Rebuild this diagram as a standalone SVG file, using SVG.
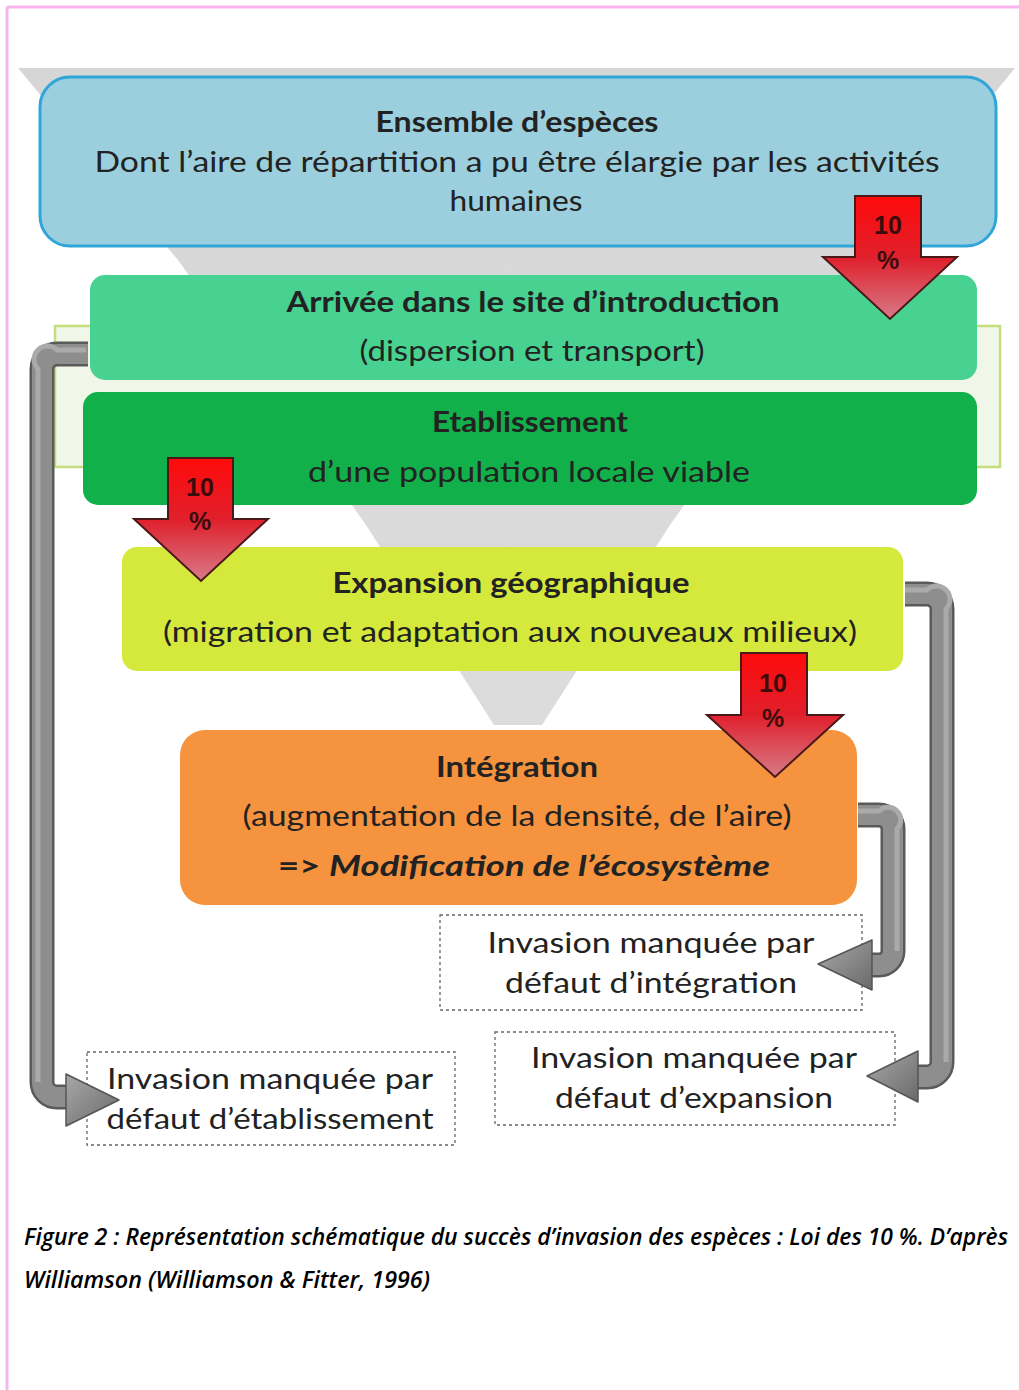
<svg xmlns="http://www.w3.org/2000/svg" width="1019" height="1390" viewBox="0 0 1019 1390">
<defs>
<linearGradient id="redg" x1="0" y1="0" x2="0" y2="1">
<stop offset="0" stop-color="#ff0a0a"/>
<stop offset="0.5" stop-color="#e0202c"/>
<stop offset="1" stop-color="#d87a88"/>
</linearGradient>
<linearGradient id="grayh" x1="0" y1="0" x2="1" y2="1">
<stop offset="0" stop-color="#a8a8a8"/>
<stop offset="1" stop-color="#6a6a6a"/>
</linearGradient>
<linearGradient id="funnel" x1="0" y1="0" x2="0" y2="1">
<stop offset="0" stop-color="#d6d6d6"/>
<stop offset="1" stop-color="#dcdcdc"/>
</linearGradient>
</defs>
<style>
.t{font-family:Lato,"Open Sans","DejaVu Sans",sans-serif;font-size:28px;fill:#222;text-anchor:middle}
.b{font-weight:bold}
.pct{font-family:"Liberation Sans",Arial,sans-serif;font-size:25px;font-weight:bold;fill:#3a0c0c;text-anchor:middle}
.cap{font-family:"Open Sans","Liberation Sans",sans-serif;font-size:23px;font-style:italic;font-weight:600;fill:#000}
.dash{fill:#fff;stroke:#666;stroke-width:1.3;stroke-dasharray:3,3}
.pipeo{fill:none;stroke:#5a5a5a;stroke-width:25;stroke-linejoin:round}
.pipei{fill:none;stroke:#8e8e8e;stroke-width:20}
.pipeh{fill:none;stroke:#aaaaaa;stroke-width:5}
.head{fill:url(#grayh);stroke:#555;stroke-width:1.5;stroke-linejoin:round}
.red{fill:url(#redg);stroke:#4a1818;stroke-width:2;stroke-linejoin:miter}
</style>
<rect width="1019" height="1390" fill="#fff"/>
<!-- pink frame -->
<line x1="7" y1="7" x2="1019" y2="7" stroke="#f8b4ec" stroke-width="3"/>
<line x1="7" y1="7" x2="7" y2="1390" stroke="#f8b4ec" stroke-width="3"/>
<!-- funnel -->
<polygon points="18,68 1015,68 858,260 670,525 542,725 494,725 366,525 178,260" fill="url(#funnel)"/>
<!-- light green bracket -->
<rect x="55" y="326" width="945" height="141" fill="#f1f7e8" stroke="#c6dd7e" stroke-width="2.5"/>
<g id="node-ensemble">
<rect x="40" y="77" width="956" height="169" rx="30" fill="#9ccfdd" stroke="#30a6d8" stroke-width="3"/>
<text class="t b" x="517" y="132" textLength="283" lengthAdjust="spacingAndGlyphs">Ensemble d’espèces</text>
<text class="t" x="517" y="172" textLength="845" lengthAdjust="spacingAndGlyphs">Dont l’aire de répartition a pu être  élargie par les activités</text>
<text class="t" x="516" y="211" textLength="133" lengthAdjust="spacingAndGlyphs">humaines</text>
</g>
<g id="node-arrivee">
<rect x="90" y="275" width="887" height="105" rx="15" fill="#47d291"/>
<text class="t b" x="533" y="312" textLength="493" lengthAdjust="spacingAndGlyphs">Arrivée dans le site d’introduction</text>
<text class="t" x="532" y="361" textLength="345" lengthAdjust="spacingAndGlyphs">(dispersion et transport)</text>
</g>
<g id="node-etablissement">
<rect x="83" y="392" width="894" height="113" rx="15" fill="#12b04b"/>
<text class="t b" x="530" y="432" textLength="196" lengthAdjust="spacingAndGlyphs">Etablissement</text>
<text class="t" x="529" y="482" textLength="442" lengthAdjust="spacingAndGlyphs">d’une population locale viable</text>
</g>
<g id="node-expansion">
<rect x="122" y="547" width="781" height="124" rx="15" fill="#d5e83c"/>
<text class="t b" x="511" y="593" textLength="357" lengthAdjust="spacingAndGlyphs">Expansion géographique</text>
<text class="t" x="510" y="642" textLength="694" lengthAdjust="spacingAndGlyphs">(migration et adaptation aux nouveaux milieux)</text>
</g>
<g id="node-integration">
<rect x="180" y="730" width="677" height="175" rx="25" fill="#f5933e"/>
<text class="t b" x="517" y="777" textLength="162" lengthAdjust="spacingAndGlyphs">Intégration</text>
<text class="t" x="517" y="826" textLength="549" lengthAdjust="spacingAndGlyphs">(augmentation de la densité, de l’aire)</text>
<text class="t b" x="524" y="876" textLength="492" lengthAdjust="spacingAndGlyphs">=&gt; <tspan font-style="italic">Modification de l’écosystème</tspan></text>
</g>
<g id="node-echec-integration">
<rect class="dash" x="440" y="915" width="422" height="95"/>
<text class="t" x="651" y="953" textLength="327" lengthAdjust="spacingAndGlyphs">Invasion manquée par</text>
<text class="t" x="651" y="993" textLength="292" lengthAdjust="spacingAndGlyphs">défaut d’intégration</text>
</g>
<g id="node-echec-expansion">
<rect class="dash" x="495" y="1032" width="400" height="93"/>
<text class="t" x="694" y="1068" textLength="326" lengthAdjust="spacingAndGlyphs">Invasion manquée par</text>
<text class="t" x="694" y="1108" textLength="278" lengthAdjust="spacingAndGlyphs">défaut d’expansion</text>
</g>
<g id="node-echec-etablissement">
<rect class="dash" x="87" y="1052" width="368" height="93"/>
<text class="t" x="270" y="1089" textLength="326" lengthAdjust="spacingAndGlyphs">Invasion manquée par</text>
<text class="t" x="270" y="1129" textLength="327" lengthAdjust="spacingAndGlyphs">défaut d’établissement</text>
</g>
<g id="connectors">
<!-- red 10% arrows -->
<polygon class="red" points="855,196 921,196 921,257 957,257 890,319 823,257 855,257"/>
<text class="pct" x="888" y="234">10</text>
<text class="pct" x="888" y="269">%</text>
<polygon class="red" points="168,458 233,458 233,519 268,519 201,581 134,519 168,519"/>
<text class="pct" x="200" y="496">10</text>
<text class="pct" x="200" y="530">%</text>
<polygon class="red" points="741,653 807,653 807,715 843,715 775,777 707,715 741,715"/>
<text class="pct" x="773" y="692">10</text>
<text class="pct" x="773" y="727">%</text>
<!-- gray failure arrows -->
<path class="pipeo" d="M88 354 H57 A15 15 0 0 0 42 369 V1082 A15 15 0 0 0 57 1097 H70"/>
<path class="pipei" d="M88 354 H57 A15 15 0 0 0 42 369 V1082 A15 15 0 0 0 57 1097 H70"/>
<path class="pipeh" d="M86 350 H57 A11 11 0 0 0 38 369 V1082"/>
<polygon class="head" points="66,1074 119,1100 66,1126"/>
<path class="pipeo" d="M905 594 H927 A15 15 0 0 1 942 609 V1062 A15 15 0 0 1 927 1077 H914"/>
<path class="pipei" d="M905 594 H927 A15 15 0 0 1 942 609 V1062 A15 15 0 0 1 927 1077 H914"/>
<path class="pipeh" d="M905 590 H927 A11 11 0 0 1 946 609 V1062"/>
<polygon class="head" points="918,1051 867,1076 918,1102"/>
<path class="pipeo" d="M858 815 H879 A14 14 0 0 1 893 829 V951 A14 14 0 0 1 879 965 H868"/>
<path class="pipei" d="M858 815 H879 A14 14 0 0 1 893 829 V951 A14 14 0 0 1 879 965 H868"/>
<path class="pipeh" d="M858 811 H879 A10 10 0 0 1 897 829 V951"/>
<polygon class="head" points="872,940 818,964 872,990"/>
</g>
<!-- caption -->
<text class="cap" x="24" y="1245" textLength="984" lengthAdjust="spacingAndGlyphs">Figure 2 : Représentation schématique du succès d’invasion des espèces : Loi des 10 %. D’après</text>
<text class="cap" x="24" y="1288" textLength="406" lengthAdjust="spacingAndGlyphs">Williamson (Williamson &amp; Fitter, 1996)</text>
</svg>
